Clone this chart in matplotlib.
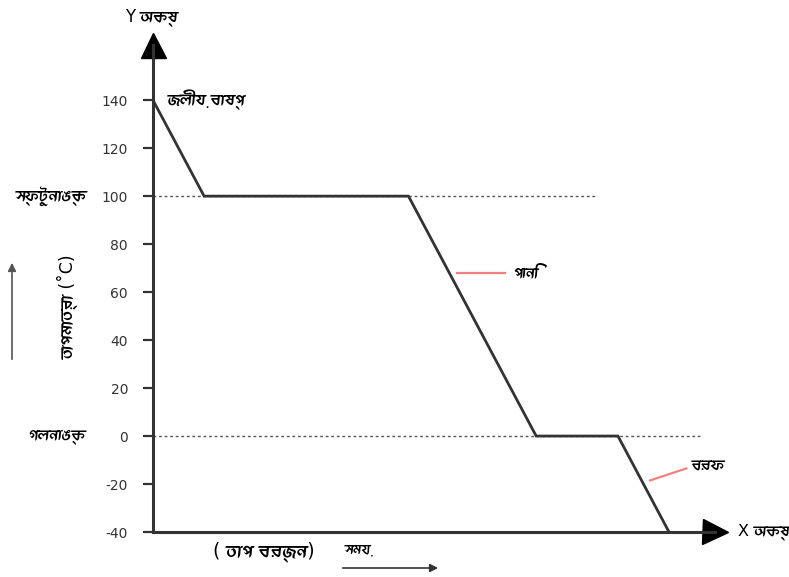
import matplotlib
matplotlib.use("Agg")
import matplotlib.pyplot as plt
from matplotlib import font_manager
from matplotlib.patches import FancyArrowPatch
from fontTools.ttLib import TTFont

# ---- 数据 ----
time_pts = [0, 10, 50, 75, 91, 101]
temp_pts = [140, 100, 100, 0, 0, -40]
yticks = [-40, -20, 0, 20, 40, 60, 80, 100, 120, 140]
boil_end = 86.5
melt_end = 107


def bengali_fonts():
    """列出含孟加拉文字形的字体，非等宽的排前面"""
    names = set()
    for f in font_manager.fontManager.ttflist:
        try:
            cmap = TTFont(f.fname, fontNumber=0, lazy=True).getBestCmap()
        except Exception:
            continue
        if cmap and 0x0995 in cmap and 0x09BE in cmap:
            names.add(f.name)
    return sorted(names, key=lambda n: ('Mono' in n, 'Serif' in n, n))


bn = bengali_fonts()
plt.rcParams['font.family'] = ['DejaVu Sans'] + bn[:1]
plt.rcParams['axes.unicode_minus'] = False

DARK = '#333333'
fig = plt.figure(figsize=(7.89, 5.77), dpi=100)
W, H = 789, 577
ax = fig.add_axes([153 / W, (H - 532) / H, (715 - 153) / W, (532 - 45) / H])
ax.set_xlim(0, 110)
ax.set_ylim(-40, 163)

for s in ['top', 'right']:
    ax.spines[s].set_visible(False)
for s in ['left', 'bottom']:
    ax.spines[s].set_linewidth(2.2)
    ax.spines[s].set_color(DARK)

ax.set_xticks([])
ax.set_yticks(yticks)
ax.tick_params(axis='y', length=7, width=1.6, color=DARK, pad=11,
               labelsize=10, labelcolor='#333333')

# 箭头
ax.plot([0], [1], marker='^', ms=18, color='black', transform=ax.transAxes, clip_on=False)
ax.plot([1], [0], marker='>', ms=18, color='black', transform=ax.transAxes, clip_on=False)

# 虚线
ax.plot([0, boil_end], [100, 100], ls=(0, (2, 2)), lw=1.0, color='#555555')
ax.plot([0, melt_end], [0, 0], ls=(0, (2, 2)), lw=1.0, color='#555555')

# 曲线
ax.plot(time_pts, temp_pts, color=DARK, lw=2.0, solid_joinstyle='miter')

# 注释
ax.plot([59.5, 68.8], [68, 68], color='#f08080', lw=1.6)
ax.text(70.5, 68, 'পানি', fontsize=11.5, va='center')
ax.plot([97.3, 104.4], [-18.5, -13.5], color='#f08080', lw=1.6)
ax.text(105.5, -12, 'বরফ', fontsize=11.5, va='center')
ax.text(3.0, 140, 'জলীয় বাষ্প', fontsize=12, va='center')

fig.text(16 / W, 1 - 196 / H, 'স্ফুটনাঙ্ক', fontsize=12, va='center')
fig.text(28 / W, 1 - 436 / H, 'গলনাঙ্ক', fontsize=11.5, va='center')
fig.text(68 / W, 1 - 308 / H, 'তাপমাত্রা (˚C)', fontsize=12.5, va='center', ha='center',
         rotation=90)
fig.text(125 / W, 1 - 18 / H, 'Y অক্ষ', fontsize=12, va='center')
fig.text(738 / W, 1 - 532 / H, 'X অক্ষ', fontsize=11.5, va='center')
fig.text(213 / W, 1 - 552 / H, '( তাপ বর্জন)', fontsize=13.5, va='center')
fig.text(345 / W, 1 - 549 / H, 'সময়', fontsize=10.5, va='center')

# 图外箭头
fig.patches.append(FancyArrowPatch(
    (12 / W, 1 - 362 / H), (12 / W, 1 - 260 / H), transform=fig.transFigure,
    arrowstyle='-|>', mutation_scale=12, lw=1.2, color='#555555'))
fig.patches.append(FancyArrowPatch(
    (340 / W, 1 - 568 / H), (441 / W, 1 - 568 / H), transform=fig.transFigure,
    arrowstyle='-|>', mutation_scale=12, lw=1.2, color='#333333'))

fig.savefig('out.png', dpi=100)
